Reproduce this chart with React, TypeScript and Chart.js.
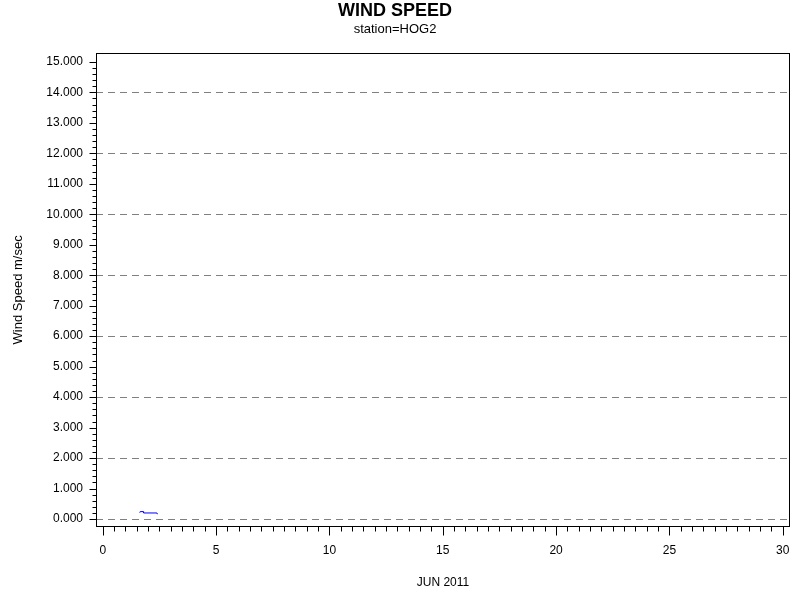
import React, { useEffect, useRef } from "react";
import { Chart, registerables } from "chart.js";

Chart.register(...registerables);

// Data (day of June 2011, wind speed m/sec)
const days = [1.63, 1.65, 1.78, 1.8, 2.39, 2.41];
const speeds = [0.21, 0.245, 0.245, 0.2, 0.2, 0.16];

// Axis ticks
const xMajorTicks = [0, 5, 10, 15, 20, 25, 30];
const yMajorTicks = [0, 1, 2, 3, 4, 5, 6, 7, 8, 9, 10, 11, 12, 13, 14, 15];
const yGridValues = [0, 2, 4, 6, 8, 10, 12, 14];
const xMinorStep = 0.5;
const yMinorStep = 0.2;

const FONT = "'Liberation Sans', Arial, Helvetica, sans-serif";

const framePlugin = {
  id: "frameTicks",
  beforeDatasetsDraw(chart: any) {
    const { ctx, chartArea, scales } = chart;
    const { left, right, top, bottom } = chartArea;
    const x = scales.x;
    const y = scales.y;
    ctx.save();
    ctx.strokeStyle = "#808080";
    ctx.lineWidth = 1;
    ctx.setLineDash([7, 5]);
    for (const v of yGridValues) {
      const py = Math.round(y.getPixelForValue(v)) + 0.5;
      ctx.beginPath();
      ctx.moveTo(left, py);
      ctx.lineTo(right, py);
      ctx.stroke();
    }
    ctx.setLineDash([]);
    ctx.strokeStyle = "#000";
    ctx.lineWidth = 1;
    const L = Math.round(left) + 0.5;
    const R = Math.round(right) - 0.5;
    const T = Math.round(top) + 0.5;
    const B = Math.round(bottom) - 0.5;
    ctx.strokeRect(L, T, R - L, B - T);
    const yMax = yMajorTicks[yMajorTicks.length - 1];
    for (let i = 0; i * yMinorStep <= yMax + 1e-9; i++) {
      const v = i * yMinorStep;
      const major = Math.abs(v - Math.round(v)) < 1e-6;
      const py = Math.round(y.getPixelForValue(v)) + 0.5;
      ctx.beginPath();
      ctx.moveTo(L, py);
      ctx.lineTo(L - (major ? 7 : 4), py);
      ctx.stroke();
    }
    const xMax = xMajorTicks[xMajorTicks.length - 1];
    for (let i = 0; i * xMinorStep <= xMax + 1e-9; i++) {
      const v = i * xMinorStep;
      const major = Math.abs(v / 5 - Math.round(v / 5)) < 1e-6;
      const px = Math.round(x.getPixelForValue(v)) + 0.5;
      ctx.beginPath();
      ctx.moveTo(px, B);
      ctx.lineTo(px, B + (major ? 9 : 5));
      ctx.stroke();
    }
    ctx.restore();
  },
};

export default function App() {
  const ref = useRef<HTMLCanvasElement | null>(null);

  useEffect(() => {
    if (!ref.current) return;
    const chart = new Chart(ref.current, {
      type: "line",
      data: {
        datasets: [
          {
            data: days.map((d, i) => ({ x: d, y: speeds[i] })),
            borderColor: "#0000FF",
            borderWidth: 1,
            pointRadius: 0,
            fill: false,
            tension: 0,
          },
        ],
      },
      options: {
        responsive: false,
        animation: false,
        devicePixelRatio: 1,
        layout: { padding: { left: 0, right: 10, top: 0, bottom: 0 } },
        plugins: {
          legend: { display: false },
          tooltip: { enabled: false },
          title: {
            display: true,
            text: "WIND SPEED",
            color: "#000",
            font: { family: FONT, size: 18, weight: "bold" },
            padding: { top: 0, bottom: 0 },
          },
          subtitle: {
            display: true,
            text: "station=HOG2",
            color: "#000",
            font: { family: FONT, size: 13 },
            padding: { top: 0, bottom: 15.5 },
          },
        },
        scales: {
          x: {
            type: "linear",
            min: -0.3,
            max: 30.32,
            afterBuildTicks: (s: any) => {
              s.ticks = xMajorTicks.map((v) => ({ value: v }));
            },
            afterFit: (s: any) => {
              s.height = 73;
              s.paddingLeft = 0;
              s.paddingRight = 0;
            },
            grid: { display: false },
            border: { display: false },
            ticks: {
              autoSkip: false,
              maxRotation: 0,
              padding: 8,
              color: "#000",
              font: { family: FONT, size: 12 },
              callback: (v: any) => String(v),
            },
            title: {
              display: true,
              text: "JUN 2011",
              color: "#000",
              font: { family: FONT, size: 12 },
              padding: { top: 0, bottom: 10 },
            },
          },
          y: {
            type: "linear",
            min: -0.26,
            max: 15.3,
            afterBuildTicks: (s: any) => {
              s.ticks = yMajorTicks.map((v) => ({ value: v }));
            },
            afterFit: (s: any) => {
              s.width = 96;
              s.paddingTop = 0;
              s.paddingBottom = 0;
            },
            grid: { display: false },
            border: { display: false },
            ticks: {
              autoSkip: false,
              padding: 5,
              color: "#000",
              font: { family: FONT, size: 12 },
              callback: (v: any) => Number(v).toFixed(3),
            },
            title: {
              display: true,
              text: "Wind Speed m/sec",
              color: "#000",
              font: { family: FONT, size: 13 },
              padding: { top: 11, bottom: 0 },
            },
          },
        },
      },
      plugins: [framePlugin],
    });
    return () => chart.destroy();
  }, []);

  return (
    <div style={{ position: "fixed", left: 0, top: 0, width: 800, height: 600, background: "#fff" }}>
      <canvas ref={ref} width={800} height={600} style={{ width: 800, height: 600, display: "block" }} />
    </div>
  );
}
